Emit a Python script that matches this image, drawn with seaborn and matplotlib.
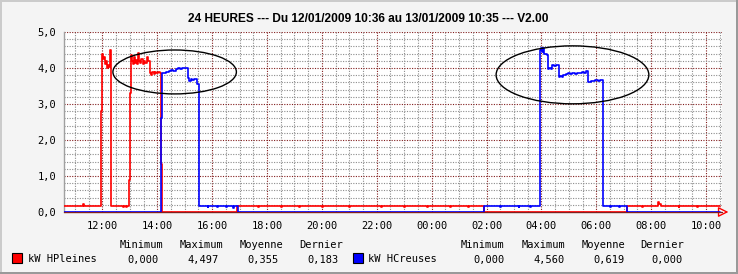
import matplotlib
matplotlib.use("Agg")
import matplotlib.pyplot as plt
import matplotlib.dates as mdates
from matplotlib.patches import Ellipse, Rectangle
from matplotlib.ticker import FuncFormatter, MultipleLocator
import seaborn as sns
import pandas as pd

# ---------------- data ----------------
title_text = "24 HEURES --- Du 12/01/2009 10:36 au 13/01/2009 10:35 --- V2.00"
start_str = "2009-01-12 10:36"
end_str = "2009-01-13 10:35"

hp_name = "kW HPleines"
hp_times = ["10:36", "11:10", "11:12", "11:18", "11:20", "11:40", "11:42", "11:56", "11:58",
            "12:00", "12:02", "12:04", "12:06", "12:08", "12:10", "12:12", "12:14", "12:16",
            "12:19", "12:45", "12:47", "12:52", "12:54", "12:59", "13:01", "13:03", "13:05",
            "13:07", "13:09", "13:11", "13:13", "13:15", "13:18", "13:20", "13:22", "13:25",
            "13:28", "13:31", "13:34", "13:37", "13:40", "13:43", "13:46", "13:49", "13:52",
            "13:55", "13:58", "14:02", "14:05", "14:09", "14:11",
            "16:55", "17:40", "17:42", "18:30", "18:32", "19:10", "19:12", "20:00", "20:02",
            "21:00", "21:02", "22:10", "22:12", "23:00", "23:02", "23:50", "23:52", "00:40",
            "00:42", "01:20", "01:22", "01:55",
            "07:08", "07:40", "07:42", "08:15", "08:17", "08:21", "09:00", "09:02", "09:40",
            "09:42", "10:30"]
hp_values = [0.18, 0.16, 0.18, 0.21, 0.18, 0.16, 0.18, 0.36, 2.80,
             4.39, 4.25, 4.30, 4.12, 4.20, 4.00, 4.08, 4.02, 4.50,
             0.18, 0.15, 0.18, 0.15, 0.18, 0.89, 3.30, 4.36, 4.20,
             4.10, 4.30, 4.15, 4.22, 4.10, 4.41, 4.20, 4.15, 4.25,
             4.10, 4.20, 4.15, 4.30, 4.20, 3.85, 3.80, 3.90, 3.82,
             3.88, 3.85, 3.90, 3.85, 1.33, 0.00,
             0.18, 0.13, 0.18, 0.13, 0.18, 0.14, 0.18, 0.13, 0.18,
             0.13, 0.18, 0.14, 0.18, 0.13, 0.18, 0.14, 0.18, 0.13,
             0.18, 0.14, 0.18, 0.00,
             0.18, 0.14, 0.18, 0.29, 0.22, 0.18, 0.14, 0.18, 0.14,
             0.18, 0.18]

hc_name = "kW HCreuses"
hc_times = ["10:36", "14:09", "14:10", "14:15", "14:20", "14:25", "14:30", "14:35", "14:40",
            "14:45", "14:50", "14:55", "15:00", "15:05", "15:07", "15:10", "15:13", "15:17",
            "15:20", "15:27", "15:32", "15:50", "15:52", "16:10", "16:12", "16:30", "16:33",
            "16:45", "16:48", "16:56",
            "01:55", "02:30", "02:32", "03:10", "03:12", "03:35", "03:37", "03:57", "03:59",
            "04:01", "04:03", "04:05", "04:07", "04:13", "04:14", "04:17", "04:20", "04:24",
            "04:28", "04:31", "04:38", "04:41", "04:44", "04:48", "04:53", "04:58", "05:03",
            "05:08", "05:13", "05:18", "05:23", "05:28", "05:33", "05:38", "05:43", "05:48",
            "05:53", "05:58", "06:03", "06:08", "06:14", "06:30", "06:32", "06:50", "06:52",
            "07:08", "10:30"]
hc_values = [0.00, 2.60, 3.85, 3.87, 3.90, 3.92, 3.95, 3.93, 3.97,
             4.00, 3.96, 3.99, 4.00, 4.01, 3.71, 3.65, 3.70, 3.68,
             3.70, 3.55, 0.18, 0.15, 0.18, 0.14, 0.18, 0.15, 0.18,
             0.12, 0.18, 0.00,
             0.18, 0.15, 0.18, 0.15, 0.18, 0.14, 0.18, 4.50, 4.56,
             4.45, 4.55, 4.40, 4.38, 4.35, 3.97, 3.99, 3.97, 4.08,
             4.06, 4.08, 3.74, 3.78, 3.75, 3.80, 3.83, 3.85, 3.82,
             3.86, 3.84, 3.87, 3.85, 3.88, 3.86, 3.92, 3.62, 3.65,
             3.63, 3.66, 3.64, 3.66, 0.18, 0.15, 0.18, 0.14, 0.18,
             0.00, 0.00]

stat_headers = ["Minimum", "Maximum", "Moyenne", "Dernier"]
hp_stats = ["0,000", "4,497", "0,355", "0,183"]
hc_stats = ["0,000", "4,560", "0,619", "0,000"]

# ellipses: (center time, center value, width in minutes, height in kW)
ellipse_specs = [("2009-01-12 14:38", 3.89, 270, 1.22),
                 ("2009-01-13 05:08", 3.81, 334, 1.61)]

# ---------------- build frames ----------------
start = pd.Timestamp(start_str)
end = pd.Timestamp(end_str)


def to_stamp(t):
    ts = pd.Timestamp("2009-01-12 " + t)
    if ts < start:
        ts += pd.Timedelta(days=1)
    return ts


df = pd.concat([
    pd.DataFrame({"time": [to_stamp(t) for t in hp_times], "kW": hp_values, "serie": hp_name}),
    pd.DataFrame({"time": [to_stamp(t) for t in hc_times], "kW": hc_values, "serie": hc_name}),
], ignore_index=True)

RED = "#ff0000"
BLUE = "#0000ff"
MGRID = "#821e1e"
GRID = "#8c8c8c"
BACK = "#f4f4f4"

sns.set_theme(style="white")
plt.rcParams["font.family"] = ["DejaVu Sans Mono", "DejaVu Sans"]
plt.rcParams["text.color"] = "black"

W, H = 738, 274
fig = plt.figure(figsize=(W / 100, H / 100), dpi=100, facecolor=BACK)
ax = fig.add_axes([64 / W, (H - 212) / H, (722 - 64) / W, (212 - 32) / H])
ax.set_facecolor("white")

sns.lineplot(data=df, x="time", y="kW", hue="serie", hue_order=[hp_name, hc_name],
             palette={hp_name: RED, hc_name: BLUE}, estimator=None, sort=True,
             drawstyle="steps-post", linewidth=1.2, legend=False, ax=ax, zorder=5)

ax.set_xlim(start, end)
ax.set_ylim(0, 5)
ax.set_xlabel("")
ax.set_ylabel("")

ax.xaxis.set_major_locator(mdates.HourLocator(byhour=range(0, 24, 2)))
ax.xaxis.set_minor_locator(mdates.MinuteLocator(byminute=[0, 30]))
ax.xaxis.set_major_formatter(mdates.DateFormatter("%H:%M"))
ax.yaxis.set_major_locator(MultipleLocator(1.0))
ax.yaxis.set_minor_locator(MultipleLocator(0.2))
ax.yaxis.set_major_formatter(FuncFormatter(lambda v, p: f"{v:.1f}".replace(".", ",")))

ax.grid(which="minor", color=GRID, linestyle=(0, (1, 1.3)), linewidth=0.8, zorder=1)
ax.grid(which="major", color=MGRID, linestyle=(0, (1, 1.3)), linewidth=0.8, zorder=2)
ax.set_axisbelow(True)

for s in ["top", "right"]:
    ax.spines[s].set_visible(False)
ax.spines["left"].set_color("#a0a0a0")
ax.spines["left"].set_linewidth(1.0)
ax.spines["bottom"].set_visible(False)

ax.tick_params(axis="both", which="major", labelsize=7.5, colors=MGRID, labelcolor="black",
               length=3, width=0.8, direction="inout")
ax.tick_params(axis="both", which="minor", colors=GRID, length=3, width=0.8, direction="inout")
ax.tick_params(axis="x", which="major", pad=5)
ax.tick_params(axis="y", which="major", pad=4)

# axis line with arrow at zero
ax.plot([0, 1.0], [0, 0], transform=ax.get_yaxis_transform(), color=MGRID, lw=1.0,
        clip_on=False, zorder=4)
ax.annotate("", xy=(1.014, 0), xytext=(0.995, 0), xycoords=("axes fraction", "data"),
            textcoords=("axes fraction", "data"),
            arrowprops=dict(arrowstyle="-|>,head_length=0.5,head_width=0.25", color=RED,
                            fc="white", lw=1.0), annotation_clip=False)

# ellipses
for c_t, c_v, w_min, h_v in ellipse_specs:
    ct = mdates.date2num(pd.Timestamp(c_t))
    e = Ellipse((ct, c_v), width=w_min / 1440.0, height=h_v, fill=False,
                edgecolor="black", lw=1.0, zorder=6)
    ax.add_patch(e)

# title
fig.text(368.5 / W, 1 - 18.5 / H, title_text, ha="center", va="center", color="black",
         fontsize=8.6, fontweight="bold", family="Liberation Sans")

# legend block
mono = dict(fontsize=7.5, family="DejaVu Sans Mono", color="black", va="center")
left_hdr = [141, 201, 261, 321]
left_val = [159, 219, 279, 339]
right_hdr = [483, 543, 603, 662]
right_val = [505, 565, 625, 683]
for name, color, sq_x, lab_x, hdrs, vals, stats in [
        (hp_name, RED, 12, 28, left_hdr, left_val, hp_stats),
        (hc_name, BLUE, 353, 368, right_hdr, right_val, hc_stats)]:
    fig.patches.append(Rectangle((sq_x / W, 1 - 263 / H), 10 / W, 10 / H, facecolor=color,
                                 edgecolor="black", lw=0.8, transform=fig.transFigure))
    fig.text(lab_x / W, 1 - 259.5 / H, name, ha="left", **mono)
    for hx, head in zip(hdrs, stat_headers):
        fig.text(hx / W, 1 - 245.5 / H, head, ha="center", **mono)
    for vx, val in zip(vals, stats):
        fig.text(vx / W, 1 - 259.5 / H, val, ha="right", **mono)

# frame shading
fig.patches.append(Rectangle((0, 0), 1, 2 / H, facecolor="#999999", edgecolor="none",
                             transform=fig.transFigure))
fig.patches.append(Rectangle((1 - 2 / W, 0), 2 / W, 1, facecolor="#999999", edgecolor="none",
                             transform=fig.transFigure))
fig.patches.append(Rectangle((0, 1 - 2 / H), 1 - 2 / W, 2 / H, facecolor="#cbcbcb",
                             edgecolor="none", transform=fig.transFigure))
fig.patches.append(Rectangle((0, 2 / H), 2 / W, 1 - 2 / H, facecolor="#cbcbcb",
                             edgecolor="none", transform=fig.transFigure))

fig.savefig("out.png", dpi=100, facecolor=BACK)
